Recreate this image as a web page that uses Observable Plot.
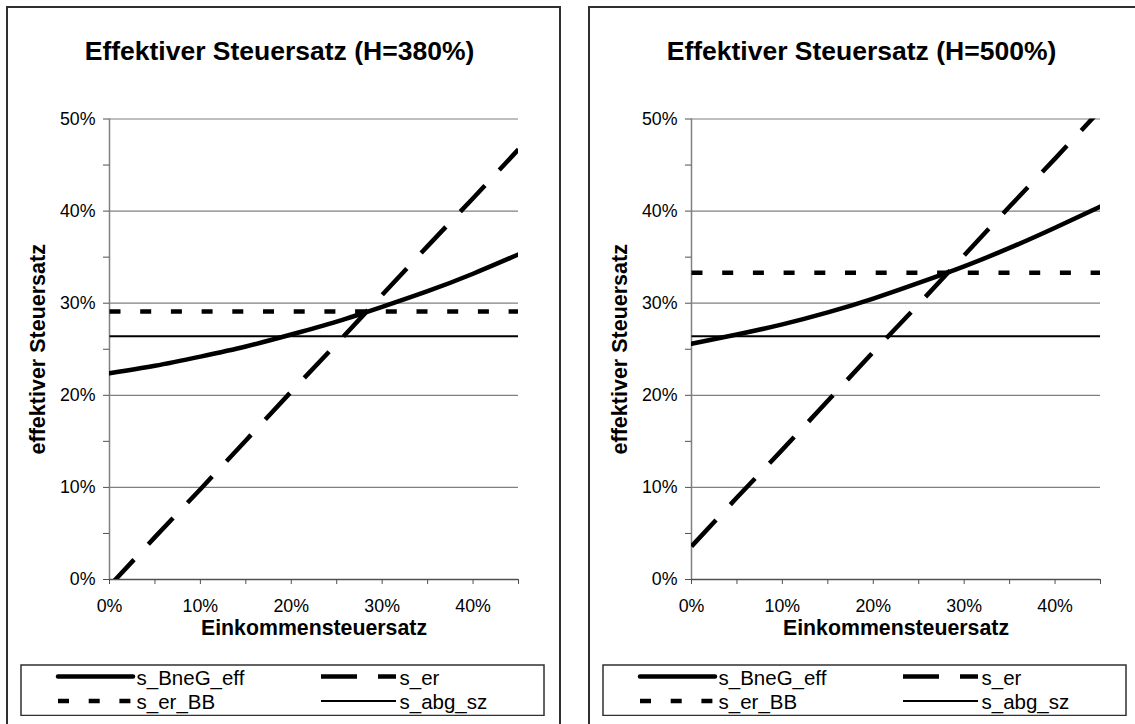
<!DOCTYPE html>
<html><head><meta charset="utf-8">
<script src="https://cdn.jsdelivr.net/npm/d3@7"></script>
<script src="https://cdn.jsdelivr.net/npm/@observablehq/plot@0.6"></script>
<style>
html,body{margin:0;padding:0;background:#fff;}
#root{position:relative;width:1135px;height:724px;overflow:hidden;font-family:"Liberation Sans",Arial,sans-serif;color:#000;}
.panel{position:absolute;border:2px solid #303030;box-sizing:border-box;}
.title{position:absolute;font-weight:bold;font-size:26.5px;line-height:26px;text-align:center;white-space:nowrap;}
.abs{position:absolute;}
</style></head><body><div id="root"></div>
<script>
// Einkommensteuersatz (x, in %)
const rates = [0, 5, 10, 15, 20, 25, 30, 35, 40, 45];
// H = 380 %
const bneg380 = [22.4, 23.2, 24.2, 25.3, 26.6, 28.0, 29.6, 31.3, 33.2, 35.3];
const er380   = [-0.7, 4.6, 9.8, 15.1, 20.4, 25.6, 30.9, 36.2, 41.4, 46.7];
const erBB380 = [29.1, 29.1, 29.1, 29.1, 29.1, 29.1, 29.1, 29.1, 29.1, 29.1];
const abg380  = [26.4, 26.4, 26.4, 26.4, 26.4, 26.4, 26.4, 26.4, 26.4, 26.4];
// H = 500 %
const bneg500 = [25.6, 26.6, 27.7, 29.0, 30.5, 32.2, 34.0, 36.0, 38.2, 40.5];
const er500   = [3.6, 8.9, 14.1, 19.4, 24.7, 29.9, 35.2, 40.5, 45.7, 51.0];
const erBB500 = [33.3, 33.3, 33.3, 33.3, 33.3, 33.3, 33.3, 33.3, 33.3, 33.3];
const abg500  = [26.4, 26.4, 26.4, 26.4, 26.4, 26.4, 26.4, 26.4, 26.4, 26.4];

const seriesNames = ["s_BneG_eff", "s_er", "s_er_BB", "s_abg_sz"];
const titles = ["Effektiver Steuersatz (H=380%)", "Effektiver Steuersatz (H=500%)"];
const xTicks = [0, 5, 10, 15, 20, 25, 30, 35, 40, 45];
const yTicks = [0, 5, 10, 15, 20, 25, 30, 35, 40, 45, 50];
const gridValues = [10, 20, 30, 40, 50];
const xLabel = "Einkommensteuersatz";
const yLabel = "effektiver Steuersatz";

// styles (kept apart from the data)
const styles = {
  "s_BneG_eff": {strokeWidth: 4.5, dash: null, cap: "round"},
  "s_er":       {strokeWidth: 4.5, dash: "36,21", cap: "butt"},
  "s_er_BB":    {strokeWidth: 4.5, dash: "11,19.7", cap: "butt"},
  "s_abg_sz":   {strokeWidth: 2, dash: null, cap: "butt"}
};

const panelData = [
  [bneg380, er380, erBB380, abg380],
  [bneg500, er500, erBB500, abg500]
];

const root = document.getElementById("root");
const PANEL_SHIFT = 582;
const FONT = "'Liberation Sans', Arial, sans-serif";

panelData.forEach((series, p) => {
  const off = p * PANEL_SHIFT;
  const panel = document.createElement("div");
  panel.className = "panel";
  Object.assign(panel.style, {left: (6 + off) + "px", top: "6px", width: "555px", height: "800px"});
  root.appendChild(panel);

  const t = document.createElement("div");
  t.className = "title";
  t.textContent = titles[p];
  Object.assign(t.style, {left: (3 + off) + "px", top: "38px", width: "553px"});
  root.appendChild(t);

  const rows = [];
  series.forEach((vals, s) => {
    rates.forEach((x, i) => rows.push({series: seriesNames[s], x, y: vals[i]}));
  });

  const lineMarks = seriesNames.map(name => {
    const st = styles[name];
    return Plot.line(rows.filter(d => d.series === name), {
      x: "x", y: "y", stroke: "#000", strokeWidth: st.strokeWidth,
      strokeDasharray: st.dash, strokeLinecap: st.cap, strokeLinejoin: "round",
      curve: name === "s_BneG_eff" ? "natural" : "linear", clip: true
    });
  });

  const chart = Plot.plot({
    width: 553, height: 560,
    marginLeft: 102, marginRight: 42, marginTop: 28.5, marginBottom: 71,
    style: {fontFamily: FONT, fontSize: "17.8px", color: "#000", background: "transparent"},
    x: {domain: [0, 45]},
    y: {domain: [0, 50]},
    marks: [
      Plot.gridY(gridValues, {stroke: "#808080", strokeOpacity: 1, strokeWidth: 1.2}),
      Plot.ruleX([0], {stroke: "#808080", strokeWidth: 1.5}),
      Plot.ruleY([0], {stroke: "#505050", strokeWidth: 1.5}),
      Plot.axisY({ticks: yTicks, tickFormat: d => d % 10 === 0 ? d + "%" : "", tickSize: 6, tickPadding: 8, stroke: "#505050", fill: "#000", fontSize: 17.8, label: null}),
      Plot.axisX({ticks: xTicks, tickFormat: d => (d % 10 === 0 && d < 45) ? d + "%" : "", tickSize: 5, tickPadding: 15, stroke: "#505050", fill: "#000", fontSize: 17.8, label: null}),
      ...lineMarks,
      Plot.text([xLabel], {text: d => d, frameAnchor: "bottom", lineAnchor: "middle", textAnchor: "middle", dy: 49, fontWeight: "bold", fontSize: 21.3, fill: "#000"}),
      Plot.text([yLabel], {text: d => d, frameAnchor: "left", lineAnchor: "middle", textAnchor: "middle", rotate: -90, dx: -71, fontWeight: "bold", fontSize: 21.5, fill: "#000"})
    ]
  });
  chart.classList.add("abs");
  Object.assign(chart.style, {left: (7 + off) + "px", top: "90px", maxWidth: "none"});
  root.appendChild(chart);

  // legend
  const L = {left: 21 + off, top: 664.5, width: 523, height: 50.5};
  const lsvg = d3.create("svg")
    .attr("width", L.width + 2).attr("height", L.height + 2)
    .attr("class", "abs")
    .style("left", (L.left - 1) + "px").style("top", (L.top - 1) + "px");
  lsvg.append("rect").attr("x", 1).attr("y", 1).attr("width", L.width).attr("height", L.height)
    .attr("fill", "#fff").attr("stroke", "#303030").attr("stroke-width", 1.5);
  const slots = [
    {col: 0, row: 0}, {col: 1, row: 0}, {col: 0, row: 1}, {col: 1, row: 1}
  ];
  const colX = [38, 301];
  const rowY = [12.5, 37];
  seriesNames.forEach((name, i) => {
    const st = styles[name];
    const sl = slots[i];
    const x0 = colX[sl.col], y0 = rowY[sl.row];
    lsvg.append("line").attr("x1", x0).attr("x2", x0 + 75).attr("y1", y0).attr("y2", y0)
      .attr("stroke", "#000").attr("stroke-width", st.strokeWidth)
      .attr("stroke-dasharray", st.dash).attr("stroke-linecap", st.cap);
    lsvg.append("text").attr("x", x0 + 78.5).attr("y", y0 + 8)
      .attr("font-size", 20.5).attr("font-family", FONT)
      .attr("fill", "#000").text(name);
  });
  root.appendChild(lsvg.node());
});
</script></body></html>
